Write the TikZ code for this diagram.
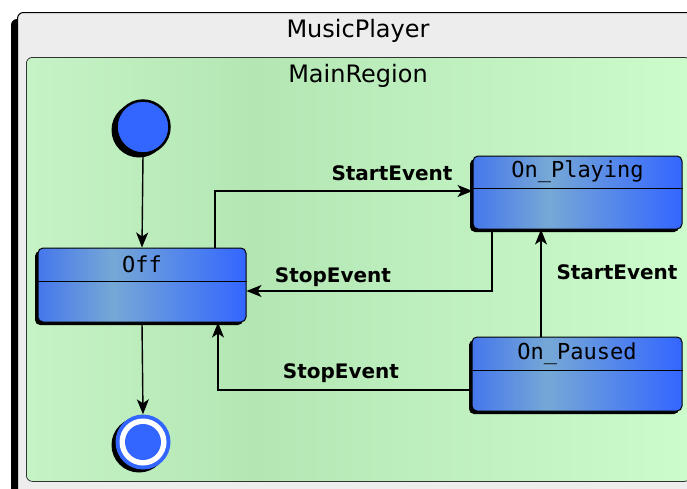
\documentclass[tikz,border=0pt]{standalone}
\usepackage{fontspec}
\setmainfont{DejaVu Sans}
\newfontfamily\monof{DejaVu Sans Mono}
\usetikzlibrary{shadows,arrows.meta,calc}
\definecolor{stl}{HTML}{4577EC}
\definecolor{stm}{HTML}{76A8D6}
\definecolor{str}{HTML}{3366FF}
\definecolor{rgl}{HTML}{C6F3C6}
\definecolor{rgm}{HTML}{B4E6B4}
\definecolor{rgr}{HTML}{CCFBCC}
\definecolor{outerfill}{HTML}{EDEDED}
\definecolor{dotblue}{HTML}{3366FF}
\pgfdeclarehorizontalshading{stshade}{100bp}{color(0bp)=(stl); color(25bp)=(stl); color(43bp)=(stm); color(75bp)=(str); color(100bp)=(str)}
\pgfdeclarehorizontalshading{rgshade}{100bp}{color(0bp)=(rgl); color(25bp)=(rgl); color(42bp)=(rgm); color(75bp)=(rgr); color(100bp)=(rgr)}
\tikzset{
  stbox/.style={draw=black, line width=1pt, rounded corners=5pt,
    shading=stshade, shading angle=0,
    general shadow={fill=black, shadow xshift=-3pt, shadow yshift=-3pt},
    inner sep=0pt},
  stname/.style={font=\monof\fontsize{22}{25}\selectfont, inner sep=0pt},
  evlabel/.style={font=\bfseries\fontsize{20}{23}\selectfont, inner sep=0pt},
  arr/.style={line width=1.4pt, -{Stealth[length=15pt,width=12pt,inset=4pt]}},
}
\begin{document}
\begin{tikzpicture}[x=1pt,y=-1pt]
\useasboundingbox (0,0) rectangle (687,488);
% outer box
\fill[black, rounded corners=6pt] (11,19) rectangle (697,505);
\node[draw=black, line width=1pt, fill=outerfill, rounded corners=6pt, minimum width=686pt, minimum height=492pt, inner sep=0pt, anchor=north west] (outer) at (17,12) {};
\node[font=\fontsize{24}{28}\selectfont] (title) at (358,31) {MusicPlayer};
% region
\node[draw=black!80, line width=0.8pt, rounded corners=6pt, shading=rgshade, shading angle=0, minimum width=664pt, minimum height=424pt, inner sep=0pt, anchor=north west] (region) at (26,57) {};
\node[font=\fontsize{24}{28}\selectfont] (rtitle) at (358,76) {MainRegion};
% initial
\fill[black] (139,130) circle (27.5);
\node[circle, draw=black, line width=2.5pt, fill=dotblue, minimum size=53pt, inner sep=0pt] (init) at (143,127) {};
% final
\fill[black] (139,445) circle (27.5);
\node[circle, fill=dotblue, minimum size=55pt, inner sep=0pt] (final) at (143,442) {};
\fill[white] (final.center) circle (23.5);
\fill[dotblue] (final.center) circle (18);
% states
\node[stbox, minimum width=208pt, minimum height=74pt] (off) at (142,285) {};
\draw[line width=1pt] ($(off.north west)+(0,34)$) -- ($(off.north east)+(0,34)$);
\node[stname] (offname) at ($(off.north)+(0,17)$) {Off};
\node[stbox, minimum width=209pt, minimum height=73pt] (play) at (577.5,192.5) {};
\draw[line width=1pt] ($(play.north west)+(0,33)$) -- ($(play.north east)+(0,33)$);
\node[stname] (playname) at ($(play.north)+(0,16.5)$) {On\_Playing};
\node[stbox, minimum width=210pt, minimum height=74pt] (pause) at (577,374) {};
\draw[line width=1pt] ($(pause.north west)+(0,34)$) -- ($(pause.north east)+(0,34)$);
\node[stname] (pausename) at ($(pause.north)+(0,17)$) {On\_Paused};
% transitions
\draw[arr] (init.south) -- (off.north);
\draw[arr] (off.south) -- (final.north);
\draw[arr] ($(off.north)+(73,0)$) |- ($(play.west)+(0,-1.5)$);
\draw[arr] ($(play.south)+(-85.5,0)$) |- ($(off.east)+(0,6)$);
\draw[arr] ($(pause.west)+(0,16)$) -| ($(off.south)+(76,0)$);
\draw[arr] ($(pause.north)+(-36,0)$) -- ($(play.south)+(-36.5,0)$);
% labels
\node[evlabel] (l1) at (392,173) {StartEvent};
\node[evlabel] (l2) at (333,277) {StopEvent};
\node[evlabel] (l3) at (341,373) {StopEvent};
\node[evlabel] (l4) at (617,272) {StartEvent};
\end{tikzpicture}
\end{document}
